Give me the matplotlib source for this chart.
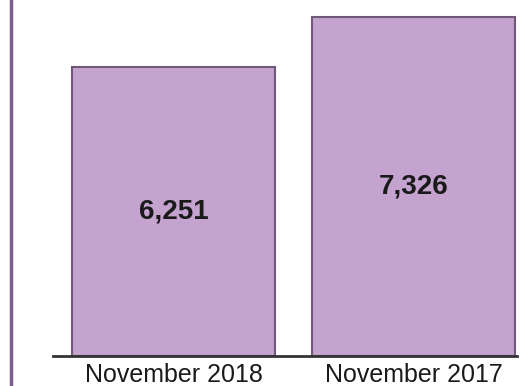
import matplotlib.pyplot as plt
from matplotlib.lines import Line2D

# --- Data -------------------------------------------------------------------
periods = ["November 2018", "November 2017"]
counts = [6251, 7326]

# --- Figure -----------------------------------------------------------------
fig = plt.figure(figsize=(5.21, 3.86), dpi=100)
ax = fig.add_axes([53 / 521, 30 / 386, (517 - 53) / 521, 356 / 386])

x = list(range(len(periods)))
ax.bar(x, counts, width=0.846, color="#c4a3cf", edgecolor="#6e5a78",
       linewidth=1.5, zorder=2)
for xi, v in zip(x, counts):
    ax.text(xi, v / 2, f"{v:,}", ha="center", va="center",
            fontsize=20, fontweight="bold", color="#1a1a1a",
            family="Liberation Sans")

ax.set_xlim(-0.502, 1.43)
ax.set_ylim(0, 7693)
ax.set_xticks(x)
ax.set_xticklabels(periods, fontsize=18, family="Liberation Sans",
                   color="#1a1a1a")
ax.tick_params(axis="x", length=0, pad=5)
ax.set_yticks([])
for side in ("top", "right", "left"):
    ax.spines[side].set_visible(False)
ax.spines["bottom"].set_color("#333333")
ax.spines["bottom"].set_linewidth(2)

# purple rule on the left edge
fig.add_artist(Line2D([11 / 521, 11 / 521], [0, 1], color="#7e5a90",
                      linewidth=2.5, transform=fig.transFigure))

fig.savefig("out.png", dpi=100, facecolor="white")
